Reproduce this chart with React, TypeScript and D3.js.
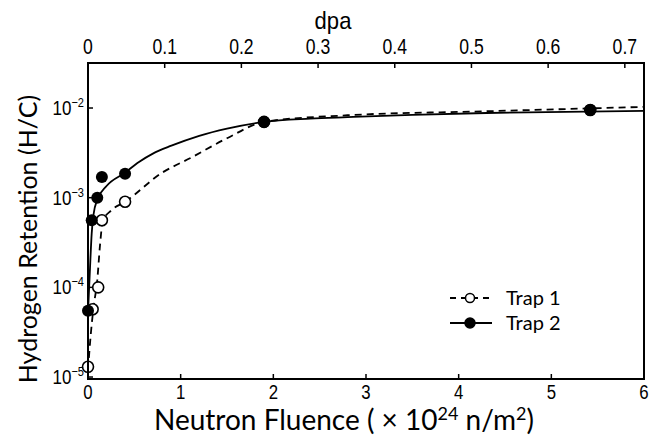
import React, { useEffect, useRef } from 'react';
import * as d3 from 'd3';

// measured points
const trap1X = [0, 0.05, 0.11, 0.15, 0.4, 1.9, 5.42];
const trap1Y = [1.3e-5, 5.7e-5, 1.0e-4, 5.6e-4, 9.0e-4, 7.0e-3, 9.5e-3];
const trap2X = [0, 0.04, 0.1, 0.15, 0.4, 1.9, 5.42];
const trap2Y = [5.5e-5, 5.6e-4, 1.0e-3, 1.7e-3, 1.85e-3, 7.0e-3, 9.5e-3];

// fitted curves
const fit1X = [0, 0.03, 0.06, 0.1, 0.13, 0.16, 0.25, 0.4, 0.8, 1.1, 1.5, 1.9, 2.8, 4.3, 6];
const fit1Y = [1.2e-5, 3e-5, 6e-5, 1.2e-4, 3e-4, 5.5e-4, 7.2e-4, 9e-4, 1.9e-3, 2.75e-3, 4.6e-3, 7e-3, 8.3e-3, 9.2e-3, 1.03e-2];
const fit2X = [0, 0.02, 0.04, 0.06, 0.1, 0.2, 0.4, 0.55, 0.7, 0.9, 1.2, 1.5, 1.9, 2.4, 2.8, 3.5, 4.3, 6];
const fit2Y = [5.2e-5, 1.5e-4, 4e-4, 6.5e-4, 9.5e-4, 1.35e-3, 1.9e-3, 2.5e-3, 3.1e-3, 3.8e-3, 4.9e-3, 5.9e-3, 7.0e-3, 7.6e-3, 7.9e-3, 8.4e-3, 8.8e-3, 9.3e-3];

const fluenceTicks = [0, 1, 2, 3, 4, 5, 6];
const dpaTicks = [0, 0.1, 0.2, 0.3, 0.4, 0.5, 0.6, 0.7];
const yExponents = [-2, -3, -4, -5];
const seriesNames = ['Trap 1', 'Trap 2'];

export default function App() {
  const ref = useRef<SVGSVGElement>(null);

  useEffect(() => {
    const svg = d3.select(ref.current);
    svg.selectAll('*').remove();

    const left = 88, right = 644, top = 63, bottom = 379;
    const x = d3.scaleLinear().domain([0, 6]).range([left, right]);
    const xTop = d3.scaleLinear().domain([0, 0.725]).range([left, right]);
    const y = d3.scaleLog().domain([Math.pow(10, -5.022), Math.pow(10, -1.498)]).range([bottom, top]);

    const tickFont = '"Liberation Sans", Arial, sans-serif';
    const titleFont = 'Lato, "Open Sans", sans-serif';

    // narrow text by squeezing a normal sans
    const narrowText = (px: number, py: number, anchor: string, size: number, sx = 0.8) =>
      svg.append('text')
        .attr('transform', `translate(${px},${py}) scale(${sx},1)`)
        .attr('text-anchor', anchor)
        .attr('font-family', tickFont)
        .attr('font-size', size);

    // curves
    const line = d3.line<[number, number]>()
      .x(d => x(d[0]))
      .y(d => y(d[1]))
      .curve(d3.curveMonotoneX);

    svg.append('path')
      .attr('d', line(fit1X.map((v, i) => [v, fit1Y[i]] as [number, number])))
      .attr('fill', 'none')
      .attr('stroke', '#000')
      .attr('stroke-width', 1.8)
      .attr('stroke-dasharray', '7,5');

    svg.append('path')
      .attr('d', line(fit2X.map((v, i) => [v, fit2Y[i]] as [number, number])))
      .attr('fill', 'none')
      .attr('stroke', '#000')
      .attr('stroke-width', 1.8);

    // markers
    svg.selectAll('.t1')
      .data(trap1X.map((v, i) => [v, trap1Y[i]]))
      .enter().append('circle')
      .attr('cx', d => x(d[0]))
      .attr('cy', d => y(d[1]))
      .attr('r', 5.5)
      .attr('fill', '#fff')
      .attr('stroke', '#000')
      .attr('stroke-width', 1.6);

    svg.selectAll('.t2')
      .data(trap2X.map((v, i) => [v, trap2Y[i]]))
      .enter().append('circle')
      .attr('cx', d => x(d[0]))
      .attr('cy', d => y(d[1]))
      .attr('r', 6)
      .attr('fill', '#000');

    // frame
    svg.append('rect')
      .attr('x', left).attr('y', top)
      .attr('width', right - left).attr('height', bottom - top)
      .attr('fill', 'none')
      .attr('stroke', '#000')
      .attr('stroke-width', 2);

    // bottom axis
    fluenceTicks.forEach(t => {
      if (t > 0 && t < 6) {
        svg.append('line')
          .attr('x1', x(t)).attr('x2', x(t))
          .attr('y1', bottom).attr('y2', bottom - 5)
          .attr('stroke', '#000').attr('stroke-width', 1.5);
      }
      narrowText(x(t), 399, 'middle', 21).text(t);
    });

    // top axis
    dpaTicks.forEach(t => {
      if (t > 0) {
        svg.append('line')
          .attr('x1', xTop(t)).attr('x2', xTop(t))
          .attr('y1', top).attr('y2', top + 5)
          .attr('stroke', '#000').attr('stroke-width', 1.5);
      }
      narrowText(xTop(t), 54, 'middle', 22).text(t);
    });

    // left axis
    yExponents.forEach(e => {
      const yy = y(Math.pow(10, e));
      svg.append('line')
        .attr('x1', left).attr('x2', left + 5)
        .attr('y1', yy).attr('y2', yy)
        .attr('stroke', '#000').attr('stroke-width', 1.5);
      const txt = narrowText(84, yy + 7, 'end', 20, 0.85);
      txt.append('tspan').text('10');
      txt.append('tspan')
        .attr('dy', -8)
        .attr('font-size', 13)
        .text('\u2212' + Math.abs(e));
    });

    // titles
    narrowText(333, 29, 'middle', 24, 0.92).text('dpa');

    const xt = svg.append('text')
      .attr('x', 344).attr('y', 430)
      .attr('text-anchor', 'middle')
      .attr('font-family', titleFont)
      .attr('font-size', 28);
    xt.append('tspan').text('Neutron Fluence ( \u00d7 10');
    xt.append('tspan').attr('dy', -10).attr('font-size', 18).text('24');
    xt.append('tspan').attr('dy', 10).text(' n/m');
    xt.append('tspan').attr('dy', -10).attr('font-size', 18).text('2');
    xt.append('tspan').attr('dy', 10).text(')');

    svg.append('text')
      .attr('transform', 'translate(37,239) rotate(-90)')
      .attr('text-anchor', 'middle')
      .attr('font-family', titleFont)
      .attr('font-size', 25)
      .text('Hydrogen Retention (H/C)');

    // legend
    seriesNames.forEach((name, i) => {
      const ly = 298 + i * 25;
      svg.append('line')
        .attr('x1', 450).attr('x2', 492)
        .attr('y1', ly).attr('y2', ly)
        .attr('stroke', '#000')
        .attr('stroke-width', 1.8)
        .attr('stroke-dasharray', i === 0 ? '6,5' : null);
      svg.append('circle')
        .attr('cx', 470).attr('cy', ly)
        .attr('r', i === 0 ? 4.5 : 5)
        .attr('fill', i === 0 ? '#fff' : '#000')
        .attr('stroke', '#000')
        .attr('stroke-width', 1.5);
      svg.append('text')
        .attr('x', 506).attr('y', ly + 7)
        .attr('font-family', titleFont)
        .attr('font-size', 20)
        .text(name);
    });
  }, []);

  return (
    <svg ref={ref} width={649} height={438}
      style={{ position: 'absolute', left: 0, top: 0, background: '#fff' }} />
  );
}
